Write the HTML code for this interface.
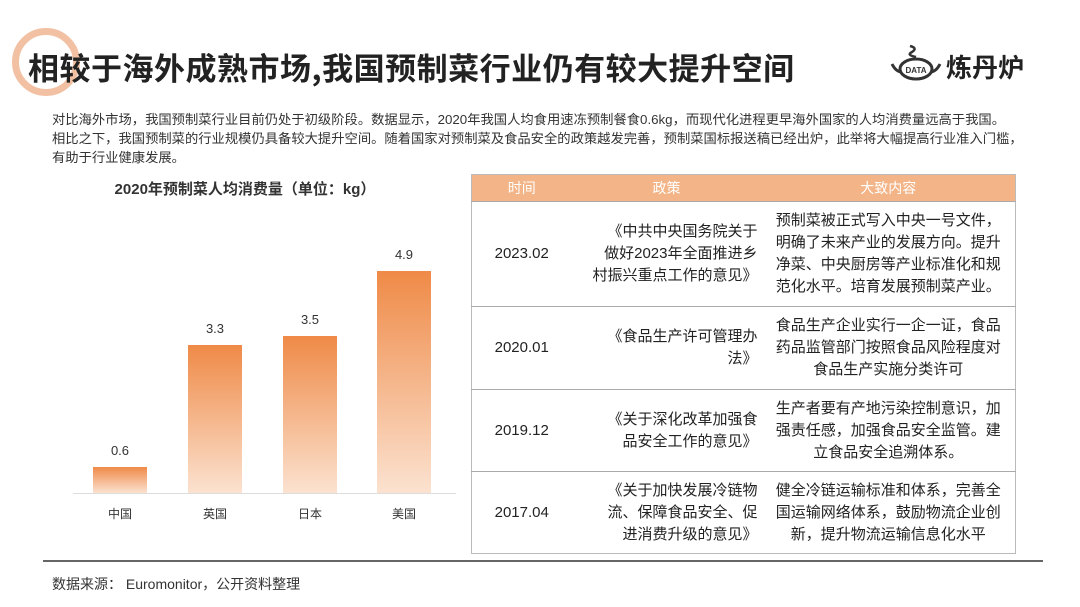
<!DOCTYPE html>
<html><head><meta charset="utf-8"><style>
*{margin:0;padding:0;box-sizing:border-box}
body{width:1080px;height:607px;background:#fff;position:relative;overflow:hidden;font-family:"Liberation Sans","Noto Sans CJK SC",sans-serif;color:#333}
.abs{position:absolute}
.title{left:28px;top:44px;font-size:31px;font-weight:bold;color:#222;letter-spacing:0.5px;white-space:nowrap;font-family:"Noto Sans CJK SC",sans-serif}
.body{left:52px;top:110px;font-size:13.3px;line-height:19px;color:#333;white-space:nowrap}
.ct{left:60px;width:370px;top:178px;text-align:center;font-size:15px;font-weight:bold;color:#333}
.bar{position:absolute;width:54px;background:linear-gradient(#ef8a47,#fbe2d0)}
.v{position:absolute;width:54px;text-align:center;font-size:13px;color:#333}
.x{position:absolute;width:54px;text-align:center;font-size:12px;color:#333;top:505px}
table{position:absolute;left:471px;top:174px;width:545px;border-collapse:collapse;border:1px solid #bbb;font-size:15px;color:#222}
th{background:#f3b487;color:#fff;font-weight:normal;height:27px;font-size:14px}
td{border-top:1px solid #aaa;text-align:center;line-height:22px;padding:0 4px}
</style></head><body>
<div class="abs" style="left:12px;top:28px;width:68px;height:68px;border-radius:50%;border:7px solid #f0b592;opacity:.85"></div>
<div class="abs title">相较于海外成熟市场,我国预制菜行业仍有较大提升空间</div>
<svg class="abs" style="left:888px;top:42px" width="56" height="40" viewBox="0 0 56 40"><path d="M22 4 q8 2 2 6 q-6 3 4 5" stroke="#333" stroke-width="2.5" fill="none"/><ellipse cx="28" cy="27" rx="16" ry="10" fill="none" stroke="#333" stroke-width="3"/><path d="M4 22 q4 8 10 8 M52 22 q-4 8 -10 8" stroke="#333" stroke-width="3" fill="none"/><text x="28" y="31" font-size="8" font-weight="bold" text-anchor="middle" fill="#333" font-family="Liberation Sans">DATA</text></svg>
<div class="abs" style="left:946px;top:48px;font-size:26px;font-weight:bold;color:#222">炼丹炉</div>
<div class="abs body">对比海外市场，我国预制菜行业目前仍处于初级阶段。数据显示，2020年我国人均食用速冻预制餐食0.6kg，而现代化进程更早海外国家的人均消费量远高于我国。<br>相比之下，我国预制菜的行业规模仍具备较大提升空间。随着国家对预制菜及食品安全的政策越发完善，预制菜国标报送稿已经出炉，此举将大幅提高行业准入门槛，<br>有助于行业健康发展。</div>
<div class="abs ct">2020年预制菜人均消费量（单位：kg）</div>
<div class="bar" style="left:93px;top:467px;height:26px"></div>
<div class="bar" style="left:188px;top:345px;height:148px"></div>
<div class="bar" style="left:283px;top:336px;height:157px"></div>
<div class="bar" style="left:377px;top:271px;height:222px"></div>
<div class="v" style="left:93px;top:443px">0.6</div>
<div class="v" style="left:188px;top:321px">3.3</div>
<div class="v" style="left:283px;top:312px">3.5</div>
<div class="v" style="left:377px;top:247px">4.9</div>
<div class="abs" style="left:73px;top:493px;width:383px;height:1px;background:#ddd"></div>
<div class="x" style="left:93px">中国</div><div class="x" style="left:188px">英国</div><div class="x" style="left:283px">日本</div><div class="x" style="left:377px">美国</div>
<table>
<tr><th style="width:100px">时间</th><th style="width:190px">政策</th><th>大致内容</th></tr>
<tr style="height:105px"><td>2023.02</td><td style="text-align:right">《中共中央国务院关于<br>做好2023年全面推进乡<br>村振兴重点工作的意见》</td><td>预制菜被正式写入中央一号文件，<br>明确了未来产业的发展方向。提升<br>净菜、中央厨房等产业标准化和规<br>范化水平。培育发展预制菜产业。</td></tr>
<tr style="height:83px"><td>2020.01</td><td style="text-align:right">《食品生产许可管理办<br>法》</td><td>食品生产企业实行一企一证，食品<br>药品监管部门按照食品风险程度对<br>食品生产实施分类许可</td></tr>
<tr style="height:82px"><td>2019.12</td><td style="text-align:right">《关于深化改革加强食<br>品安全工作的意见》</td><td>生产者要有产地污染控制意识，加<br>强责任感，加强食品安全监管。建<br>立食品安全追溯体系。</td></tr>
<tr style="height:82px"><td>2017.04</td><td style="text-align:right">《关于加快发展冷链物<br>流、保障食品安全、促<br>进消费升级的意见》</td><td>健全冷链运输标准和体系，完善全<br>国运输网络体系，鼓励物流企业创<br>新，提升物流运输信息化水平</td></tr>
</table>
<div class="abs" style="left:43px;top:560px;width:1000px;height:2px;background:#666"></div>
<div class="abs" style="left:52px;top:574px;font-size:14px;color:#333">数据来源： Euromonitor，公开资料整理</div>
</body></html>
